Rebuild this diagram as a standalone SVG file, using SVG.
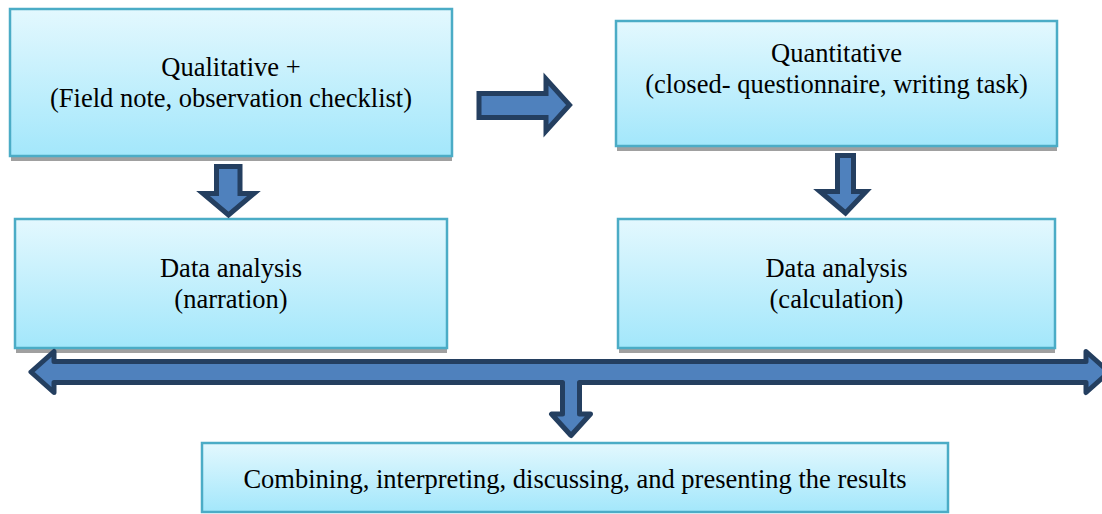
<svg xmlns="http://www.w3.org/2000/svg" width="1102" height="514" viewBox="0 0 1102 514">
  <defs>
    <linearGradient id="boxGrad" x1="0" y1="0" x2="0" y2="1">
      <stop offset="0" stop-color="#E3F8FE"/>
      <stop offset="1" stop-color="#A3E7FB"/>
    </linearGradient>
  </defs>
  <style>
    .shadow { fill: #A0A0A0; }
    .box { fill: url(#boxGrad); stroke: #4BACC6; stroke-width: 2.5; }
    .lbl { font-family: 'Liberation Serif', 'DejaVu Serif', serif; font-size: 26.5px; fill: #000; text-anchor: middle; }
    .arrow { fill: #4F81BD; stroke: #243F60; stroke-width: 5; stroke-linejoin: miter; }
    .arrow-r { fill: #4F81BD; stroke: #243F60; stroke-width: 5; stroke-linejoin: round; }
  </style>

  <g id="node-qualitative">
    <rect class="shadow" x="11" y="9" width="441" height="152"/>
    <rect class="box" x="10" y="9" width="442" height="147"/>
    <text class="lbl" font-family="Liberation Serif, serif" x="231" y="76">Qualitative +</text>
    <text class="lbl" font-family="Liberation Serif, serif" x="231" y="107">(Field note, observation checklist)</text>
  </g>

  <g id="node-quantitative">
    <rect class="shadow" x="617" y="22" width="440" height="129"/>
    <rect class="box" x="616" y="21" width="441" height="125"/>
    <text class="lbl" font-family="Liberation Serif, serif" x="836.5" y="62">Quantitative</text>
    <text class="lbl" font-family="Liberation Serif, serif" x="836.5" y="93">(closed- questionnaire, writing task)</text>
  </g>

  <g id="node-analysis-narration">
    <rect class="shadow" x="16" y="220" width="431" height="133"/>
    <rect class="box" x="15" y="219" width="432" height="129"/>
    <text class="lbl" font-family="Liberation Serif, serif" x="231" y="277">Data analysis</text>
    <text class="lbl" font-family="Liberation Serif, serif" x="231" y="308">(narration)</text>
  </g>

  <g id="node-analysis-calculation">
    <rect class="shadow" x="619" y="220" width="436" height="133"/>
    <rect class="box" x="618" y="219" width="437" height="129"/>
    <text class="lbl" font-family="Liberation Serif, serif" x="836.5" y="277">Data analysis</text>
    <text class="lbl" font-family="Liberation Serif, serif" x="836.5" y="308">(calculation)</text>
  </g>

  <g id="node-results">
    <rect class="box" x="202" y="443" width="746" height="69"/>
    <text class="lbl" font-family="Liberation Serif, serif" x="575" y="488">Combining, interpreting, discussing, and presenting the results</text>
  </g>

  <g id="connectors">
    <path class="arrow" d="M479,93.5 L546,93.5 L546,79 L569.5,105 L546,131 L546,117.5 L479,117.5 Z"/>
    <path class="arrow" d="M216.5,166.5 L240,166.5 L240,193.5 L254,193.5 L228.5,215 L203,193.5 L216.5,193.5 Z"/>
    <path class="arrow" d="M837.5,155.5 L853.5,155.5 L853.5,191.5 L866,191.5 L845.5,213 L820,191.5 L837.5,191.5 Z"/>
    <path class="arrow-r" d="M31,372 L54,351.5 L54,361.5 L1086,361.5 L1086,351.5 L1109,372 L1086,392.5 L1086,382.5 L579.5,382.5 L579.5,414 L590.5,414 L571,435.5 L551.5,414 L562.5,414 L562.5,382.5 L54,382.5 L54,392.5 Z"/>
  </g>
</svg>
